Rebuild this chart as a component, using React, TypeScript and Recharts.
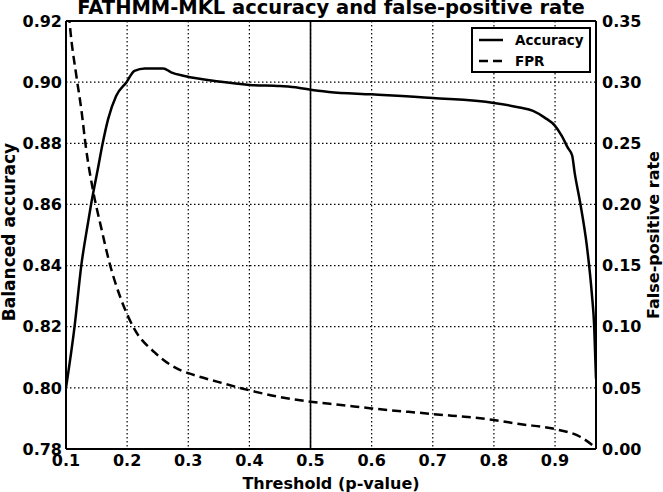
import { CartesianGrid, Legend, Line, LineChart, ReferenceLine, XAxis, YAxis } from 'recharts';

// Accuracy curve
const accThreshold = [
  0.1, 0.114, 0.125, 0.136, 0.141, 0.152, 0.16, 0.169, 0.182, 0.199, 0.212, 0.229, 0.259, 0.272, 0.294,
  0.35, 0.4, 0.45, 0.48, 0.5, 0.53, 0.6, 0.7, 0.8, 0.842, 0.864, 0.883, 0.9, 0.911, 0.921, 0.928, 0.932,
  0.941, 0.952, 0.96, 0.964, 0.967
];
const accValue = [
  0.8, 0.82, 0.84, 0.854, 0.86, 0.8715, 0.88, 0.888, 0.8955, 0.9, 0.9037, 0.9045, 0.9045, 0.9032, 0.902,
  0.9002, 0.8991, 0.8987, 0.8982, 0.8975, 0.8968, 0.896, 0.8948, 0.8932, 0.8917, 0.8906, 0.8884, 0.8857,
  0.8824, 0.8785, 0.876, 0.8705, 0.8607, 0.8465, 0.8312, 0.8203, 0.803
];

// False-positive rate
const fprThreshold = [
  0.1, 0.106, 0.117, 0.125, 0.133, 0.144, 0.158, 0.171, 0.19, 0.212, 0.245, 0.289, 0.3, 0.35, 0.4, 0.45,
  0.5, 0.55, 0.6, 0.7, 0.8, 0.842, 0.9, 0.941, 0.967
];
const fprValue = [
  0.39, 0.3486, 0.305, 0.278, 0.245, 0.212, 0.18, 0.1525, 0.1225, 0.098, 0.079, 0.064, 0.062, 0.0547, 0.048,
  0.0425, 0.0387, 0.036, 0.0332, 0.0286, 0.0237, 0.0204, 0.0163, 0.01, 0.001
];

const xTicks = [0.1, 0.2, 0.3, 0.4, 0.5, 0.6, 0.7, 0.8, 0.9];
const accTicks = [0.78, 0.8, 0.82, 0.84, 0.86, 0.88, 0.9, 0.92];
const fprTicks = [0, 0.05, 0.1, 0.15, 0.2, 0.25, 0.3, 0.35];

const accData = accThreshold.map((t, i) => ({ threshold: t, accuracy: accValue[i] }));
const fprData = fprThreshold.map((t, i) => ({ threshold: t, fpr: fprValue[i] }));

const FONT = '"DejaVu Sans", sans-serif';
const tickStyle = { fontFamily: FONT, fontWeight: 'bold', fontSize: 16, fill: '#000' };
const labelStyle = { fontFamily: FONT, fontWeight: 'bold', fontSize: 16, fill: '#000', textAnchor: 'middle' as const };

function LegendBox({ payload }: any) {
  const items = payload || [];
  return (
    <div
      style={{
        boxSizing: 'border-box',
        width: 120,
        height: 46,
        border: '2px solid #000',
        background: '#fff',
        fontFamily: FONT,
        fontWeight: 'bold',
        fontSize: 13.5,
      }}
    >
      {items.map((entry: any) => (
        <div key={entry.value} style={{ height: 21, display: 'flex', alignItems: 'center', paddingLeft: 6 }}>
          <svg width={24} height={6} style={{ marginRight: 12 }}>
            <line
              x1={0}
              y1={3}
              x2={24}
              y2={3}
              stroke="#000"
              strokeWidth={2.5}
              strokeDasharray={entry.payload?.strokeDasharray}
            />
          </svg>
          <span>{entry.value}</span>
        </div>
      ))}
    </div>
  );
}

export default function App() {
  return (
    <div style={{ position: 'absolute', left: 0, top: 0, width: 663, height: 492, background: '#fff' }}>
      <LineChart width={663} height={492} margin={{ top: 21, right: 0, bottom: 0, left: 0 }}>
        <CartesianGrid yAxisId="left" stroke="#000" strokeWidth={1.2} strokeDasharray="1.5 2.5" />
        <XAxis
          type="number"
          dataKey="threshold"
          domain={[0.1, 0.967]}
          ticks={xTicks}
          interval={0}
          allowDataOverflow
          height={43}
          tickSize={0}
          tickMargin={6}
          tickFormatter={(v: number) => v.toFixed(1)}
          tick={tickStyle}
          axisLine={{ stroke: '#000', strokeWidth: 2 }}
          label={{ value: 'Threshold (p-value)', position: 'insideBottom', offset: 3, style: labelStyle }}
        />
        <YAxis
          yAxisId="left"
          domain={[0.78, 0.92]}
          ticks={accTicks}
          interval={0}
          allowDataOverflow
          width={66}
          tickSize={0}
          tickMargin={4}
          tickFormatter={(v: number) => v.toFixed(2)}
          tick={tickStyle}
          axisLine={{ stroke: '#000', strokeWidth: 2 }}
          label={{
            value: 'Balanced accuracy',
            angle: -90,
            position: 'insideLeft',
            offset: 9,
            dy: -3,
            style: { ...labelStyle, fontSize: 17 },
          }}
        />
        <YAxis
          yAxisId="right"
          orientation="right"
          domain={[0, 0.35]}
          ticks={fprTicks}
          interval={0}
          allowDataOverflow
          width={67}
          tickSize={0}
          tickMargin={6}
          tickFormatter={(v: number) => v.toFixed(2)}
          tick={{ ...tickStyle, textAnchor: 'start' }}
          axisLine={{ stroke: '#000', strokeWidth: 2 }}
          label={{ value: 'False-positive rate', angle: -90, position: 'insideRight', offset: 10, style: labelStyle }}
        />
        <ReferenceLine yAxisId="left" y={0.92} stroke="#000" strokeWidth={2} />
        <ReferenceLine yAxisId="left" x={0.5} stroke="#000" strokeWidth={1.6} />
        <Line
          yAxisId="left"
          data={accData}
          dataKey="accuracy"
          name="Accuracy"
          type="monotone"
          stroke="#000"
          strokeWidth={2.5}
          dot={false}
          activeDot={false}
          isAnimationActive={false}
        />
        <Line
          yAxisId="right"
          data={fprData}
          dataKey="fpr"
          name="FPR"
          type="monotone"
          stroke="#000"
          strokeWidth={2.5}
          strokeDasharray="9 5"
          dot={false}
          activeDot={false}
          isAnimationActive={false}
        />
        <Legend
          layout="vertical"
          align="center"
          verticalAlign="middle"
          wrapperStyle={{ top: 27, left: 471, width: 120, height: 46 }}
          content={(props: any) => <LegendBox {...props} />}
        />
        <text x={331} y={14} textAnchor="middle" fontFamily={FONT} fontWeight="bold" fontSize={19.5} fill="#000">
          FATHMM-MKL accuracy and false-positive rate
        </text>
      </LineChart>
    </div>
  );
}
